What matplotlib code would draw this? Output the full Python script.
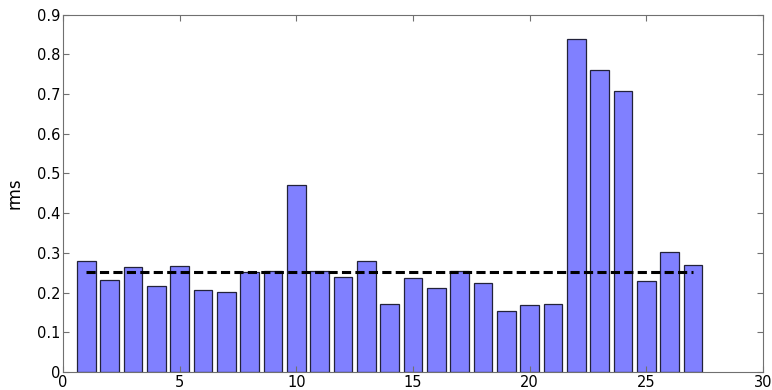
import numpy as np
import matplotlib
matplotlib.use("Agg")
import matplotlib.pyplot as plt

# rms per channel
channels = np.arange(1, 28)
rms = [0.280, 0.232, 0.264, 0.217, 0.266, 0.207, 0.201, 0.251, 0.254, 0.471,
       0.253, 0.239, 0.280, 0.171, 0.236, 0.211, 0.253, 0.223, 0.154, 0.169,
       0.171, 0.839, 0.760, 0.708, 0.229, 0.301, 0.269]
threshold = 0.252
xticks = [0, 5, 10, 15, 20, 25, 30]
yticks = [0, 0.1, 0.2, 0.3, 0.4, 0.5, 0.6, 0.7, 0.8, 0.9]

plt.rcParams["font.family"] = ["DejaVu Sans"]
fig = plt.figure(figsize=(7.72, 3.9), dpi=100)
ax = fig.add_axes([0.0816, 0.0462, 0.9067, 0.9166])

ax.bar(channels, rms, width=0.8, color="#8080ff", edgecolor="#22223a", linewidth=0.9)
ax.plot([channels[0], channels[-1]], [threshold, threshold], color="black",
        linestyle=(0, (3, 1.4)), linewidth=2.2)

ax.set_xlim(0, 30)
ax.set_ylim(0, 0.9)
ax.set_xticks(xticks)
ax.set_yticks(yticks)
ax.set_xticklabels([str(t) for t in xticks])
ax.set_yticklabels(["0"] + [f"{t:.1f}" for t in yticks[1:]])
ax.set_ylabel("rms", fontsize=12)
ax.yaxis.set_label_coords(-0.057, 0.5)

for s in ax.spines.values():
    s.set_color("#707070")
ax.tick_params(direction="in", length=4, width=0.8, color="#707070",
               top=True, right=True, labelsize=10.5, pad=2)

fig.savefig("out.png", dpi=100)
